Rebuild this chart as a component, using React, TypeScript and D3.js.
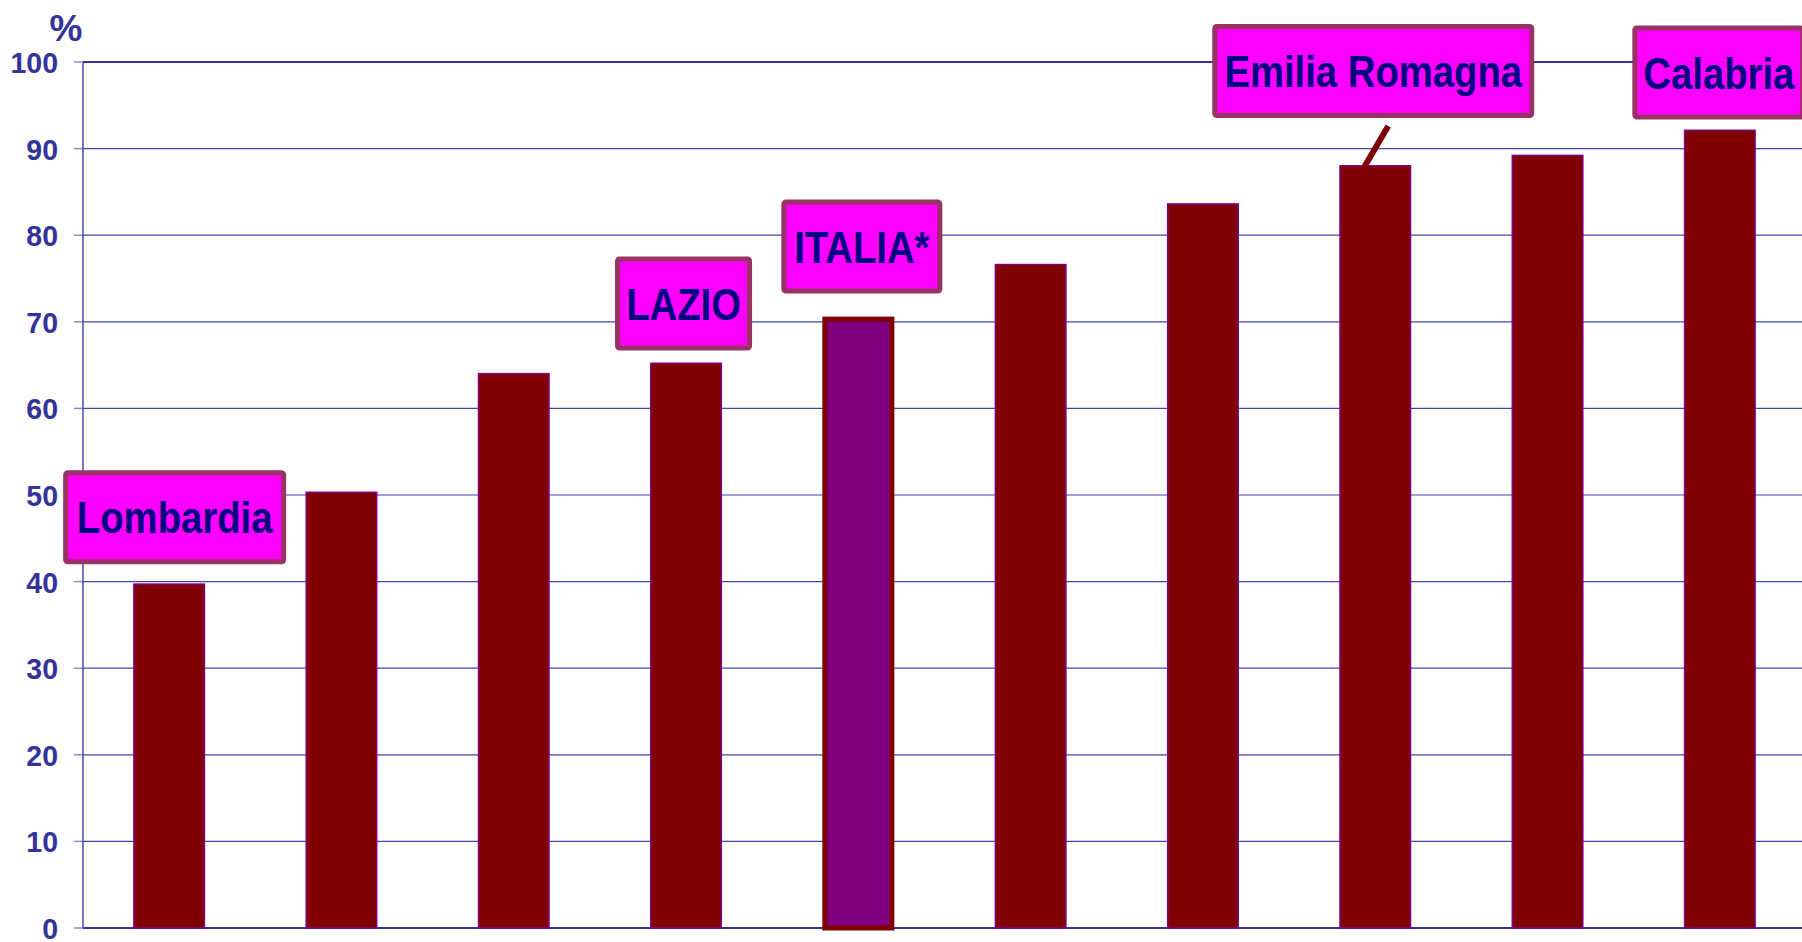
import React from "react";
import * as d3 from "d3";

// regions, sorted by value (only some are named in the chart)
const categories = [
  "Lombardia",
  "Regione 2",
  "Regione 3",
  "LAZIO",
  "ITALIA*",
  "Regione 6",
  "Regione 7",
  "Emilia Romagna",
  "Regione 9",
  "Calabria",
];
const values = [39.8, 50.4, 64.1, 65.3, 70.6, 76.7, 83.7, 88.1, 89.3, 92.2];
const highlight = ["ITALIA*"];
const yTicks = [0, 10, 20, 30, 40, 50, 60, 70, 80, 90, 100];
const labelled = ["Lombardia", "LAZIO", "ITALIA*", "Emilia Romagna", "Calabria"];

// callout box layout: width, shift from bar centre, gap above bar top
const boxLayout = {
  Lombardia: { w: 223, dx: 5.5, gap: 19 },
  LAZIO: { w: 137, dx: -2.5, gap: 12 },
  "ITALIA*": { w: 161, dx: 3.5, gap: 23 },
  "Emilia Romagna": { w: 322, dx: -2, gap: 47, leader: true },
  Calabria: { w: 173, dx: -1, gap: 10 },
};

const W = 1802;
const H = 942;
const left = 83;
const right = 1806;
const top = 62;
const bottom = 928;
const font = "'Liberation Sans', Arial, Helvetica, sans-serif";

const App = () => {
  const x = d3
    .scaleBand()
    .domain(categories)
    .range([left, right])
    .paddingInner(0.582)
    .paddingOuter(0.291);

  const y = d3.scaleLinear().domain([0, 100]).range([bottom, top]);

  const boxH = 94;

  return (
    <svg
      width={W}
      height={H}
      style={{ position: "absolute", left: 0, top: 0, background: "#fff" }}
    >
      {/* grid */}
      {yTicks.map((t) => (
        <g key={t}>
          <line
            x1={left - 9}
            x2={left}
            y1={y(t)}
            y2={y(t)}
            stroke="#8c8cc8"
            strokeWidth={1.5}
          />
          <line
            x1={left}
            x2={right}
            y1={y(t)}
            y2={y(t)}
            stroke={t === 100 || t === 0 ? "#333399" : "#4444b0"}
            strokeWidth={t === 100 || t === 0 ? 2 : 1.2}
          />
          <text
            transform={`translate(58, ${y(t) + 11}) scale(0.95,1)`}
            textAnchor="end"
            fontFamily={font}
            fontWeight="bold"
            fontSize={30}
            fill="#333399"
          >
            {t}
          </text>
        </g>
      ))}
      <line x1={left} x2={left} y1={top} y2={bottom} stroke="#4a4aaa" strokeWidth={1.5} />
      <text
        x={66}
        y={41}
        textAnchor="middle"
        fontFamily={font}
        fontWeight="bold"
        fontSize={37}
        fill="#333399"
      >
        %
      </text>

      {/* bars */}
      {categories.map((c, i) => {
        const hi = highlight.includes(c);
        const sw = hi ? 5 : 1.5;
        return (
          <rect
            key={c}
            x={x(c)! + sw / 2}
            y={y(values[i]) + sw / 2}
            width={x.bandwidth() - sw}
            height={y(0) - y(values[i]) - sw / 2}
            fill={hi ? "#800080" : "#800000"}
            stroke={hi ? "#800000" : "#800080"}
            strokeWidth={sw}
          />
        );
      })}

      {/* callouts */}
      {labelled.map((c) => {
        const i = categories.indexOf(c);
        const L = boxLayout[c];
        const cx = x(c)! + x.bandwidth() / 2;
        const barTop = y(values[i]);
        const by = barTop - L.gap - boxH;
        const bx = cx + L.dx - L.w / 2;
        return (
          <g key={c}>
            {L.leader && (
              <line
                x1={cx + 13}
                y1={by + boxH + 8}
                x2={cx - 11}
                y2={barTop + 2}
                stroke="#800000"
                strokeWidth={6}
              />
            )}
            <rect
              x={bx + 2.5}
              y={by + 2.5}
              width={L.w - 5}
              height={boxH - 5}
              rx={2}
              fill="#ff00ff"
              stroke="#993366"
              strokeWidth={5}
            />
            <text
              transform={`translate(${bx + L.w / 2}, ${by + boxH / 2 + 16}) scale(0.87,1)`}
              textAnchor="middle"
              fontFamily={font}
              fontWeight="bold"
              fontSize={44}
              fill="#000080"
            >
              {c}
            </text>
          </g>
        );
      })}
    </svg>
  );
};

export default App;
